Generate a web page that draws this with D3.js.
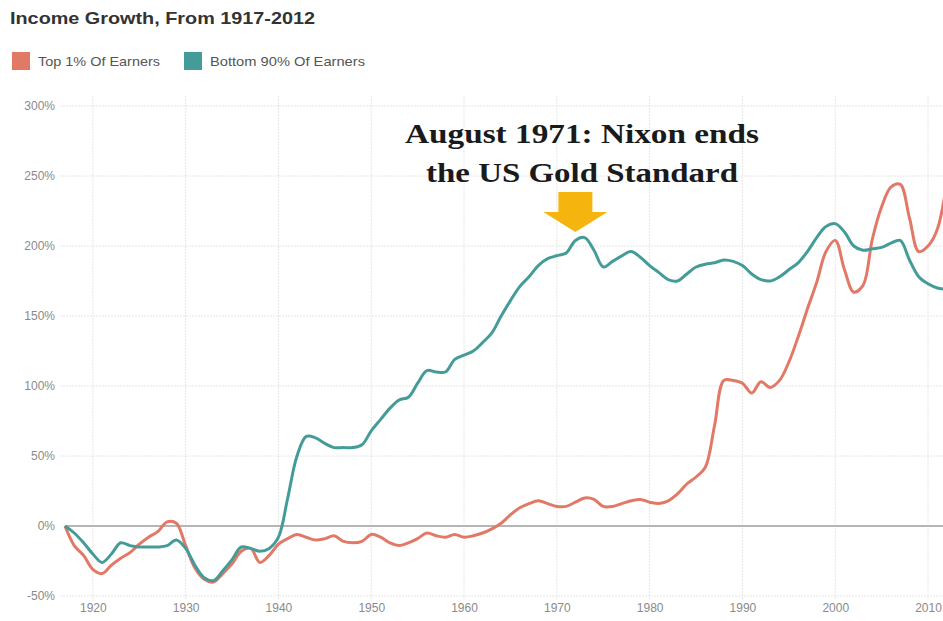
<!DOCTYPE html>
<html>
<head>
<meta charset="utf-8">
<script src="https://cdn.jsdelivr.net/npm/d3@7"></script>
<style>
  body { margin: 0; background: #fff; }
  svg { display: block; }
</style>
</head>
<body>
<div id="chart"></div>
<script>
// years 1917..2012
var startYear = 1917, endYear = 2012;
var years = d3.range(startYear, endYear + 1);

// Top 1% of earners, % growth since 1917
var top1 = [0, -14, -21, -31, -34, -28, -23, -19, -13, -8,
  -4, 3, 2, -14, -30, -38, -40, -34, -27, -18,
  -16, -26, -21, -13, -9, -6, -8, -10, -9, -7,
  -11, -12, -11, -6, -8, -12, -14, -12, -9, -5,
  -7, -8, -6, -8, -7, -5, -2, 2, 8, 13,
  16, 18, 16, 14, 14, 17, 20, 19, 14, 14,
  16, 18, 19, 17, 16, 18, 23, 30, 35, 42,
  72, 104, 104, 102, 95, 103, 99, 104, 117, 135,
  155, 174, 196, 204, 183, 167, 172, 205, 228, 242,
  244, 220, 196, 200, 212, 245];

// Bottom 90% of earners
var bottom90 = [0, -5, -12, -20, -26, -20, -12, -14, -15, -15,
  -15, -14, -10, -16, -28, -37, -39, -32, -24, -15,
  -16, -18, -16, -8, 20, 50, 64, 63, 59, 56,
  56, 56, 58, 68, 76, 84, 90, 92, 102, 111,
  110, 110, 119, 122, 125, 131, 138, 150, 161, 171,
  178, 186, 191, 193, 195, 204, 206, 197, 185, 189,
  193, 196, 192, 186, 181, 176, 175, 180, 185, 187,
  188, 190, 189, 186, 180, 176, 175, 178, 183, 188,
  196, 206, 214, 216, 210, 200, 197, 198, 199, 202,
  204, 190, 178, 173, 170, 169];

var seriesNames = ['Top 1% Of Earners', 'Bottom 90% Of Earners'];
var seriesColors = ['#e27866', '#449c99'];
var yTicks = [-50, 0, 50, 100, 150, 200, 250, 300];
var xTicks = [1920, 1930, 1940, 1950, 1960, 1970, 1980, 1990, 2000, 2010];
var noteLines = ['August 1971: Nixon ends', 'the US Gold Standard'];
var noteYear = 1972;

var W = 943, H = 621;
var svg = d3.select('#chart').append('svg')
    .attr('width', W)
    .attr('height', H);

var x = d3.scaleLinear().domain([startYear, endYear]).range([65, 946.6]);
var y = d3.scaleLinear().domain([-50, 300]).range([596, 106]);

// title
svg.append('text')
    .attr('x', 10).attr('y', 24)
    .attr('textLength', 305).attr('lengthAdjust', 'spacingAndGlyphs')
    .style('font', 'bold 17px "Liberation Sans", Arial, sans-serif')
    .style('fill', '#333')
    .text('Income Growth, From 1917-2012');

// legend
var legX = [12, 184];
var legW = [122, 155];
seriesNames.forEach(function (name, i) {
    svg.append('rect')
        .attr('x', legX[i]).attr('y', 52)
        .attr('width', 18).attr('height', 18)
        .style('fill', seriesColors[i]);
    svg.append('text')
        .attr('x', legX[i] + 26).attr('y', 66)
        .attr('textLength', legW[i]).attr('lengthAdjust', 'spacingAndGlyphs')
        .style('font', '13px "Liberation Sans", Arial, sans-serif')
        .style('fill', '#555')
        .text(name);
});

// grid
var grid = svg.append('g');
grid.selectAll('.hg')
    .data(yTicks.filter(d => d !== 0))
    .enter().append('line')
    .attr('x1', 60).attr('x2', W)
    .attr('y1', d => y(d)).attr('y2', d => y(d))
    .style('stroke', '#e6e6e6')
    .style('stroke-dasharray', '2,1');

grid.selectAll('.vg')
    .data(xTicks)
    .enter().append('line')
    .attr('x1', d => x(d)).attr('x2', d => x(d))
    .attr('y1', 96).attr('y2', 600)
    .style('stroke', '#e6e6e6')
    .style('stroke-dasharray', '2,1');

// y axis labels
var ax_y = d3.axisLeft(y).tickValues(yTicks).tickSize(0).tickPadding(0)
    .tickFormat(d => d + '%');
var gy = svg.append('g')
    .attr('transform', 'translate(55,0)')
    .call(ax_y);
gy.select('.domain').remove();
gy.selectAll('text')
    .style('font', '12px "Liberation Sans Narrow", "Liberation Sans", Arial, sans-serif')
    .style('fill', '#8a8a8a');

// x axis labels
var ax_x = d3.axisBottom(x).tickValues(xTicks).tickSize(0).tickPadding(0)
    .tickFormat(String);
var gx = svg.append('g')
    .attr('transform', 'translate(0,603)')
    .call(ax_x);
gx.select('.domain').remove();
gx.selectAll('text')
    .style('font', '12px "Liberation Sans Narrow", "Liberation Sans", Arial, sans-serif')
    .style('fill', '#8a8a8a');

// zero line
svg.append('line')
    .attr('x1', x(startYear)).attr('x2', W)
    .attr('y1', y(0)).attr('y2', y(0))
    .style('stroke', '#b5b5b5')
    .style('stroke-width', 2);

// lines
var line = d3.line()
    .x((d, i) => x(years[i]))
    .y(d => y(d))
    .curve(d3.curveCatmullRom.alpha(0.5));

[top1, bottom90].forEach(function (vals, i) {
    svg.append('path')
        .datum(vals)
        .attr('d', line)
        .style('fill', 'none')
        .style('stroke', seriesColors[i])
        .style('stroke-width', 3)
        .style('stroke-linejoin', 'round');
});

// annotation
var ax = x(noteYear);
var tipY = y(210);
svg.append('path')
    .attr('d', 'M' + (ax - 17) + ',' + (tipY - 40) + 'H' + (ax + 17) + 'V' + (tipY - 20) +
        'H' + (ax + 32) + 'L' + ax + ',' + tipY + 'L' + (ax - 32) + ',' + (tipY - 20) +
        'H' + (ax - 17) + 'Z')
    .style('fill', '#f6b40e');

var noteW = [354, 312];
noteLines.forEach(function (t, i) {
    svg.append('text')
        .attr('x', 582).attr('y', 143 + i * 39)
        .attr('text-anchor', 'middle')
        .attr('textLength', noteW[i]).attr('lengthAdjust', 'spacingAndGlyphs')
        .style('font', 'bold 28px "Liberation Serif", "DejaVu Serif", serif')
        .style('fill', '#1a1a1a')
        .text(t);
});
</script>
</body>
</html>
